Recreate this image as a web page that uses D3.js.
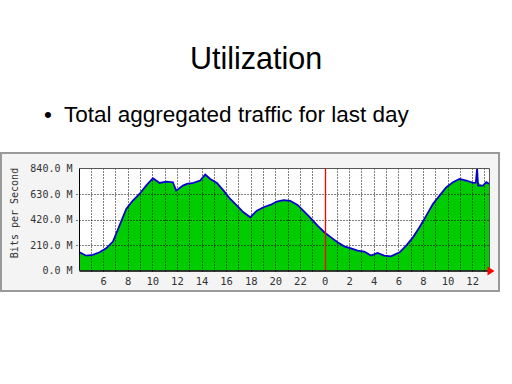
<!DOCTYPE html>
<html><head><meta charset="utf-8">
<script src="https://cdn.jsdelivr.net/npm/d3@7"></script>
<style>
html,body{margin:0;padding:0;background:#fff;}
svg{display:block;}
</style></head>
<body>
<script>
// ---- data ----
const titleText = "Utilization";
const bulletText = "Total aggregated traffic for last day";
const yLabel = "Bits per Second";
// hours since start of previous day (24 = midnight)
const hours = [4.08,4.63,5.17,5.71,6.25,6.80,7.33,7.88,8.42,8.96,9.50,10.05,10.59,11.13,11.67,11.94,12.49,12.81,13.35,13.89,14.30,14.71,15.25,15.79,16.33,16.88,17.41,17.96,18.50,19.04,19.59,20.13,20.67,21.21,21.80,22.35,22.89,23.43,23.98,24.52,25.06,25.60,26.15,26.68,27.23,27.77,28.31,28.85,29.40,30.10,30.64,31.19,31.72,32.27,32.81,33.35,33.89,34.44,34.98,35.52,36.07,36.30,36.40,36.48,36.88,37.15,37.41];
// incoming traffic, M bits/s
const inValues = [146,119,124,146,179,234,366,503,572,626,695,756,717,728,723,654,695,709,717,737,786,750,717,654,585,531,475,434,489,517,536,564,575,570,536,481,426,366,311,269,228,195,179,160,152,119,140,119,113,146,201,269,352,448,544,613,681,723,750,737,717,720,722,725,695,723,709];
// outgoing traffic, M bits/s
const outValues = [150,122,128,150,183,238,370,507,576,630,699,760,721,732,727,658,699,713,721,741,790,754,721,658,589,535,479,438,493,521,540,568,579,574,540,485,430,370,315,273,232,199,183,164,156,123,144,123,117,150,205,273,356,452,548,617,685,727,754,741,721,724,840,700,699,727,713];
const yTicks = [0,210,420,630,840];
const yTickLabels = ["0.0 M","210.0 M","420.0 M","630.0 M","840.0 M"];
const xLabelHours = [6,8,10,12,14,16,18,20,22,24,26,28,30,32,34,36];
const xLabelText = ["6","8","10","12","14","16","18","20","22","0","2","4","6","8","10","12"];
const gridHours = d3.range(5,38);
const midnight = 24;

const W=512,H=384;
const svg=d3.select("body").append("svg").attr("width",W).attr("height",H);

// slide texts
svg.append("text").attr("x",256).attr("y",69).attr("text-anchor","middle")
  .attr("font-family","Liberation Sans, Arial, sans-serif").attr("font-size",30.5).attr("fill","#000").text(titleText);
svg.append("text").attr("x",44).attr("y",122)
  .attr("font-family","Liberation Sans, Arial, sans-serif").attr("font-size",22.5).attr("fill","#000").text("•");
svg.append("text").attr("x",64).attr("y",122)
  .attr("font-family","Liberation Sans, Arial, sans-serif").attr("font-size",22.5).attr("fill","#000").text(bulletText);

// chart panel
svg.append("rect").attr("x",1).attr("y",153).attr("width",498).attr("height",138)
  .attr("fill","#f4f4f4").attr("stroke","#9a9a9a").attr("stroke-width",2);

const L=79.5,R=489.5,T=168.5,B=270.5;
const x=d3.scaleLinear().domain([4.08,37.41]).range([L,R]);
const y=d3.scaleLinear().domain([0,840]).range([B,T]);

svg.append("rect").attr("x",L).attr("y",T).attr("width",R-L).attr("height",B-T).attr("fill","#fff");

const inData=hours.map((h,i)=>({h,v:inValues[i]}));
const outData=hours.map((h,i)=>({h,v:outValues[i]}));

svg.append("path").datum(inData)
  .attr("d",d3.area().x(d=>x(d.h)).y0(B).y1(d=>y(d.v)))
  .attr("fill","#00cc00");

// grid
const g=svg.append("g");
g.selectAll("line.vg").data(gridHours.filter(h=>h!==midnight)).join("line")
  .attr("x1",d=>Math.round(x(d))+0.5).attr("x2",d=>Math.round(x(d))+0.5)
  .attr("y1",T).attr("y2",B+3)
  .attr("stroke","#000").attr("stroke-width",1).attr("stroke-dasharray","1,2");
g.selectAll("line.hg").data([210,420,630]).join("line")
  .attr("x1",L-3).attr("x2",R).attr("y1",d=>Math.round(y(d))+0.5).attr("y2",d=>Math.round(y(d))+0.5)
  .attr("stroke","#000").attr("stroke-width",1).attr("stroke-dasharray","1,2");

// outgoing line
svg.append("path").datum(outData)
  .attr("d",d3.line().x(d=>x(d.h)).y(d=>y(d.v)))
  .attr("fill","none").attr("stroke","#0000cc").attr("stroke-width",1.8);

// frame
svg.append("line").attr("x1",L).attr("x2",R).attr("y1",T).attr("y2",T).attr("stroke","#555");
svg.append("line").attr("x1",R).attr("x2",R).attr("y1",T).attr("y2",B).attr("stroke","#555");
svg.append("line").attr("x1",L).attr("x2",L).attr("y1",T).attr("y2",B).attr("stroke","#000");

// midnight marker
svg.append("line").attr("x1",Math.round(x(midnight))+0.5).attr("x2",Math.round(x(midnight))+0.5)
  .attr("y1",T).attr("y2",B).attr("stroke","#ff0000").attr("stroke-width",1.3);

// axes
const yAxis=d3.axisLeft(y).tickValues(yTicks).tickSize(0).tickPadding(7)
  .tickFormat((d,i)=>yTickLabels[i]);
const ya=svg.append("g").attr("transform",`translate(${L},0)`).call(yAxis);
ya.select(".domain").remove();
ya.selectAll("text").attr("font-family","DejaVu Sans Mono, monospace").attr("font-size",10).attr("fill","#333");

const xAxis=d3.axisBottom(x).tickValues(xLabelHours).tickSize(0).tickPadding(7)
  .tickFormat((d,i)=>xLabelText[i]);
const xa=svg.append("g").attr("transform",`translate(0,${B})`).call(xAxis);
xa.select(".domain").remove();
xa.selectAll("text").attr("font-family","DejaVu Sans Mono, monospace").attr("font-size",10.5).attr("fill","#333");

svg.append("line").attr("x1",L).attr("x2",R).attr("y1",B+0.5).attr("y2",B+0.5).attr("stroke","#000").attr("stroke-width",1.5);
// arrow
svg.append("path").attr("d",`M${R-2},${B-4}L${R+5},${B+0.5}L${R-2},${B+5}Z`).attr("fill","#ff0000");

// y label
svg.append("text").attr("transform","translate(18,213) rotate(-90)").attr("text-anchor","middle")
  .attr("font-family","DejaVu Sans Mono, monospace").attr("font-size",10).attr("fill","#333").text(yLabel);
</script>
</body></html>
